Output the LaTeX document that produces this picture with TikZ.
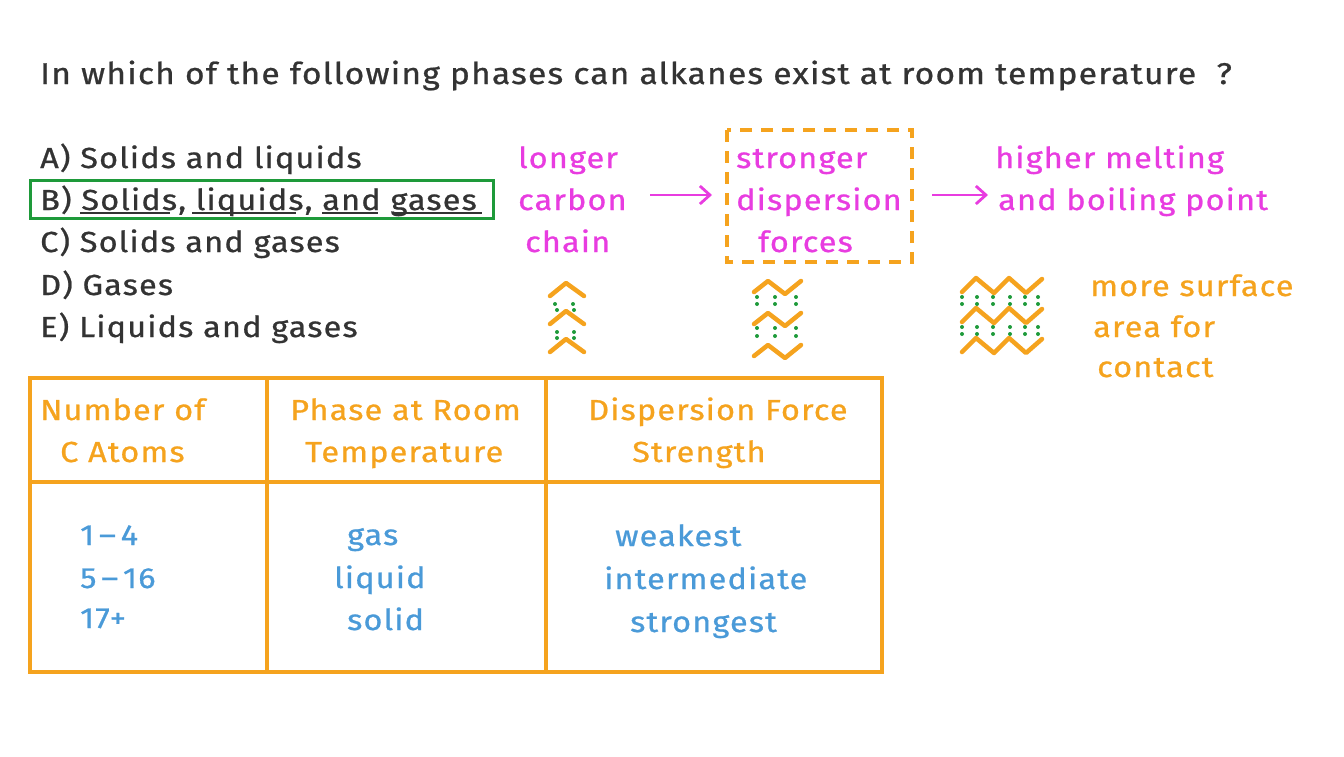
\documentclass[tikz,border=0pt]{standalone}
\usepackage{fontspec}
\setmainfont{Fira Sans}[FakeStretch=1.12,LetterSpace=4,FakeBold=0.8]
\usetikzlibrary{arrows.meta}
\definecolor{ink}{HTML}{333333}
\definecolor{pk}{HTML}{E83CE0}
\definecolor{org}{HTML}{F5A31E}
\definecolor{blu}{HTML}{4A9AD8}
\definecolor{grn}{HTML}{1E9A3A}
\tikzset{
 txt/.style={anchor=base west,inner sep=0pt,font=\fontsize{29}{34}\selectfont},
 big/.style={txt,text=ink,font=\fontsize{30}{36}\selectfont},
 opt/.style={txt,text=ink},
 pkt/.style={txt,text=pk},
 ort/.style={txt,text=org},
 blt/.style={txt,text=blu},
 zz/.style={draw=org,line width=4.5pt,line cap=round,line join=round},
 dt/.style={fill=grn,circle,inner sep=0pt,minimum size=4pt},
 arr/.style={draw=pk,line width=2.8pt,-{Straight Barb[length=10pt,width=18pt]}}
}
\begin{document}
\begin{tikzpicture}[x=1pt,y=-1pt]
\useasboundingbox (0,0) rectangle (1344,756);
\node[big] (q) at (40,84) {In which of the following phases can alkanes exist at room temperature\ \ ?};
\node[opt] (oa) at (40,168) {A) Solids and liquids};
\node[opt] (ob) at (40,210) {B) Solids, liquids, and gases};
\node[opt] (oc) at (40,252) {C) Solids and gases};
\node[opt] (od) at (40,295) {D) Gases};
\node[opt] (oe) at (40,337) {E) Liquids and gases};
\draw[grn,line width=3pt] (30,180) rectangle (493,218);
\foreach \a/\b in {80/170,192/296,322/378,392/482}{\draw[ink,line width=1.8pt] (\a,213)--(\b,213);}
\node[pkt] (l1) at (518,168) {longer};
\node[pkt] (l2) at (518,210) {carbon};
\node[pkt] (l3) at (525,252) {chain};
\node[pkt] (s1) at (736,168) {stronger};
\node[pkt] (s2) at (736,210) {dispersion};
\node[pkt] (s3) at (758,252) {forces};
\node[pkt] (h1) at (995,168) {higher melting};
\node[pkt] (h2) at (998,210) {and boiling point};
\draw[org,line width=3.5pt,dash pattern=on 12pt off 9pt] (727,130) rectangle (912,262);
\coordinate (a1s) at (650,195); \coordinate (a1e) at (712,195);
\coordinate (a2s) at (932,195); \coordinate (a2e) at (988,195);
\draw[arr] (a1s)--(a1e);
\draw[arr] (a2s)--(a2e);
\foreach \y in {0,28,56}{\draw[zz] (550,\y+296)--(566,\y+283)--(584,\y+296);}
\node[dt] at (555,304){};\node[dt] at (557,310){};\node[dt] at (573,304){};\node[dt] at (574,310){};
\node[dt] at (557,332){};\node[dt] at (557,338){};\node[dt] at (574,332){};\node[dt] at (574,338){};
\foreach \y in {0,32,64}{\draw[zz] (754,\y+292)--(768,\y+281)--(785,\y+294)--(801,\y+281);}
\foreach \y in {297,304,328,336}{\node[dt] at (757,\y){};\node[dt] at (775,\y){};\node[dt] at (796,\y){};}
\foreach \y in {0,30,60}{\draw[zz] (962,\y+292)--(976,\y+278)--(994,\y+293)--(1009,\y+278)--(1026,\y+293)--(1042,\y+279);}
\foreach \y in {297,304,327,334}{\foreach \x in {962,977,993,1010,1025,1038}{\node[dt] at (\x,\y){};}}
\node[ort] (m1) at (1090,296) {more surface};
\node[ort] (m2) at (1093,337) {area for};
\node[ort] (m3) at (1097,377) {contact};
\draw[org,line width=3.5pt] (30,378) rectangle (882,672);
\draw[org,line width=3.5pt] (30,482)--(882,482) (267,378)--(267,672) (546,378)--(546,672);
\node[ort] (t1) at (40,420) {Number of};
\node[ort] (t2) at (60,462) {C Atoms};
\node[ort] (t3) at (290,420) {Phase at Room};
\node[ort] (t4) at (305,462) {Temperature};
\node[ort] (t5) at (588,420) {Dispersion Force};
\node[ort] (t6) at (632,462) {Strength};
\node[blt] (c1) at (80,545) {1\,–\,4};
\node[blt] (c2) at (80,588) {5\,–\,16};
\node[blt] (c3) at (80,628) {17+};
\node[blt] (p1) at (347,545) {gas};
\node[blt] (p2) at (334,588) {liquid};
\node[blt] (p3) at (347,630) {solid};
\node[blt] (d1) at (615,546) {weakest};
\node[blt] (d2) at (604,589) {intermediate};
\node[blt] (d3) at (630,632) {strongest};
\end{tikzpicture}
\end{document}
